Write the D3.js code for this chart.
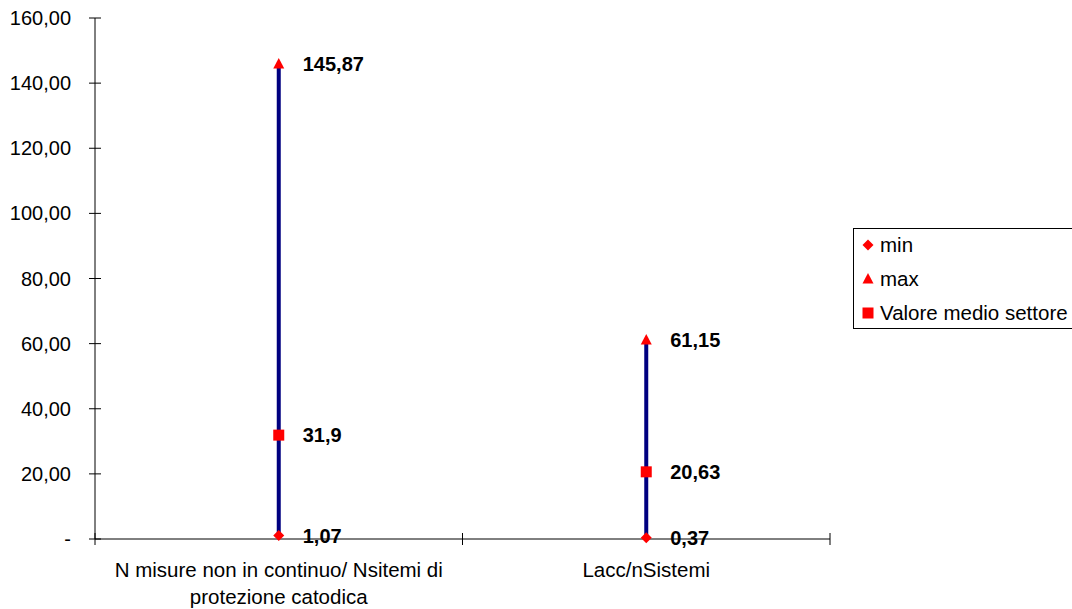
<!DOCTYPE html>
<html>
<head>
<meta charset="utf-8">
<script src="https://cdn.jsdelivr.net/npm/d3@7"></script>
<style>
  body { margin: 0; background: #fff; }
  svg { font-family: "Liberation Sans", Arial, sans-serif; }
</style>
</head>
<body>
<div id="chart"></div>
<script>
// chart values
var categories = [
  ["N misure non in continuo/ Nsitemi di", "protezione catodica"],
  ["Lacc/nSistemi"]
];
var minValues = [1.07, 0.37];
var maxValues = [145.87, 61.15];
var avgValues = [31.9, 20.63];
var minLabels = ["1,07", "0,37"];
var maxLabels = ["145,87", "61,15"];
var avgLabels = ["31,9", "20,63"];
var yTicks = [0, 20, 40, 60, 80, 100, 120, 140, 160];
var legendItems = ["min", "max", "Valore medio settore"];

var width = 1072, height = 609;
var svg = d3.select("#chart").append("svg")
  .attr("width", width)
  .attr("height", height);

var x = d3.scaleBand()
  .domain(d3.range(categories.length))
  .range([95, 830]);
var y = d3.scaleLinear()
  .domain([0, 160])
  .range([539, 18]);

var fmt = function(v) {
  return v === 0 ? "-" : d3.format(".2f")(v).replace(".", ",");
};

// y axis
svg.append("line")
  .attr("x1", 95).attr("x2", 95)
  .attr("y1", y(160)).attr("y2", y(0))
  .attr("stroke", "#000");
var yg = svg.append("g");
yg.selectAll("line.tick").data(yTicks).enter().append("line")
  .attr("x1", 89).attr("x2", 101)
  .attr("y1", (d) => y(d)).attr("y2", (d) => y(d))
  .attr("stroke", "#000");
yg.selectAll("text").data(yTicks).enter().append("text")
  .attr("x", 71)
  .attr("y", (d) => y(d))
  .attr("dy", "0.35em")
  .attr("text-anchor", "end")
  .attr("font-size", 20)
  .text(fmt);

// x axis
svg.append("line")
  .attr("x1", 95).attr("x2", 830)
  .attr("y1", y(0)).attr("y2", y(0))
  .attr("stroke", "#000");
var xTicks = d3.range(categories.length + 1).map(
  (i) => i < categories.length ? x(i) : x(i - 1) + x.bandwidth()
);
svg.selectAll("line.xtick").data(xTicks).enter().append("line")
  .attr("x1", (d) => d).attr("x2", (d) => d)
  .attr("y1", y(0) - 6).attr("y2", y(0) + 6)
  .attr("stroke", "#000");

var cx = (i) => x(i) + x.bandwidth() / 2;

svg.selectAll("text.cat").data(categories).enter().append("text")
  .attr("text-anchor", "middle")
  .attr("font-size", 20.5)
  .each(function(lines, i) {
    d3.select(this).selectAll("tspan").data(lines).enter().append("tspan")
      .attr("x", cx(i))
      .attr("y", (d, j) => 577 + j * 27)
      .text((d) => d);
  });

// hi-lo lines
svg.selectAll("line.hilo").data(categories).enter().append("line")
  .attr("x1", (d, i) => cx(i)).attr("x2", (d, i) => cx(i))
  .attr("y1", (d, i) => y(minValues[i]))
  .attr("y2", (d, i) => y(maxValues[i]))
  .attr("stroke", "#000080")
  .attr("stroke-width", 4);

var red = "#ff0000";
function marker(g, type, px, py) {
  if (type === 0) {
    g.append("path")
      .attr("d", `M${px},${py - 5.5}L${px + 5.5},${py}L${px},${py + 5.5}L${px - 5.5},${py}Z`)
      .attr("fill", red);
  } else if (type === 1) {
    g.append("path")
      .attr("d", `M${px},${py - 6}L${px + 5.5},${py + 4.5}L${px - 5.5},${py + 4.5}Z`)
      .attr("fill", red);
  } else {
    g.append("rect")
      .attr("x", px - 5.5).attr("y", py - 5.5)
      .attr("width", 11).attr("height", 11)
      .attr("fill", red);
  }
}

var series = [minValues, maxValues, avgValues];
var labels = [minLabels, maxLabels, avgLabels];
var mg = svg.append("g");
series.forEach(function(vals, s) {
  vals.forEach(function(v, i) {
    marker(mg, s, cx(i), y(v));
    mg.append("text")
      .attr("x", cx(i) + 24)
      .attr("y", y(v))
      .attr("dy", "0.35em")
      .attr("font-size", 20)
      .attr("font-weight", "bold")
      .text(labels[s][i]);
  });
});

// legend
var lg = svg.append("g");
lg.append("rect")
  .attr("x", 853.5).attr("y", 228.5)
  .attr("width", 220).attr("height", 100)
  .attr("fill", "#fff")
  .attr("stroke", "#000");
legendItems.forEach(function(name, i) {
  var ly = 245 + i * 34;
  marker(lg, i, 868, ly);
  lg.append("text")
    .attr("x", 880)
    .attr("y", ly)
    .attr("dy", "0.35em")
    .attr("font-size", 20.5)
    .text(name);
});
</script>
</body>
</html>
